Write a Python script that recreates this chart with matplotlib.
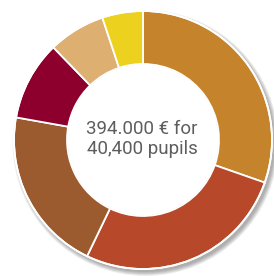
import numpy as np
import matplotlib
matplotlib.use('Agg')
import matplotlib.pyplot as plt
from matplotlib.patches import Circle

# spending shares (thousand euros), clockwise from the top
labels = ['A', 'B', 'C', 'D', 'E', 'F']
values = [119, 105, 81, 39, 28, 20]
colors = ['#C5832B', '#B8482A', '#9B5B2E', '#8D002E', '#DDB072', '#EDD11F']
center_text = '394.000 € for\n40,400 pupils'

fig = plt.figure(figsize=(2.74, 2.76), dpi=100)
ax = fig.add_axes([0, 0, 1, 1])

cx, cy, r = 143, 136, 129
hole = 76

# soft shadow to the lower right
for i in range(6):
    ax.add_patch(Circle((cx + 2.5, cy - 3), r + 4 - i * 0.8, color='#000000',
                        alpha=0.06, lw=0, zorder=0))

ax.pie(values, colors=colors, startangle=90, counterclock=False,
       center=(cx, cy), radius=r, frame=True,
       wedgeprops=dict(width=r - hole, edgecolor='white', linewidth=1.3))
ax.add_patch(Circle((cx, cy), r, fill=False, ec='white', lw=1.3, zorder=5))
ax.add_patch(Circle((cx, cy), hole - 0.5, color='white', lw=0, zorder=4))

ax.set_xlim(0, 274)
ax.set_ylim(0, 276)
ax.set_aspect('equal')
ax.axis('off')

ax.text(cx - 1, cy + 1, center_text, ha='center', va='center', fontsize=13.5,
        color='#5e5e5e', linespacing=1.1, zorder=6,
        family=['Roboto', 'DejaVu Sans'])

plt.savefig('out.png', dpi=100)
